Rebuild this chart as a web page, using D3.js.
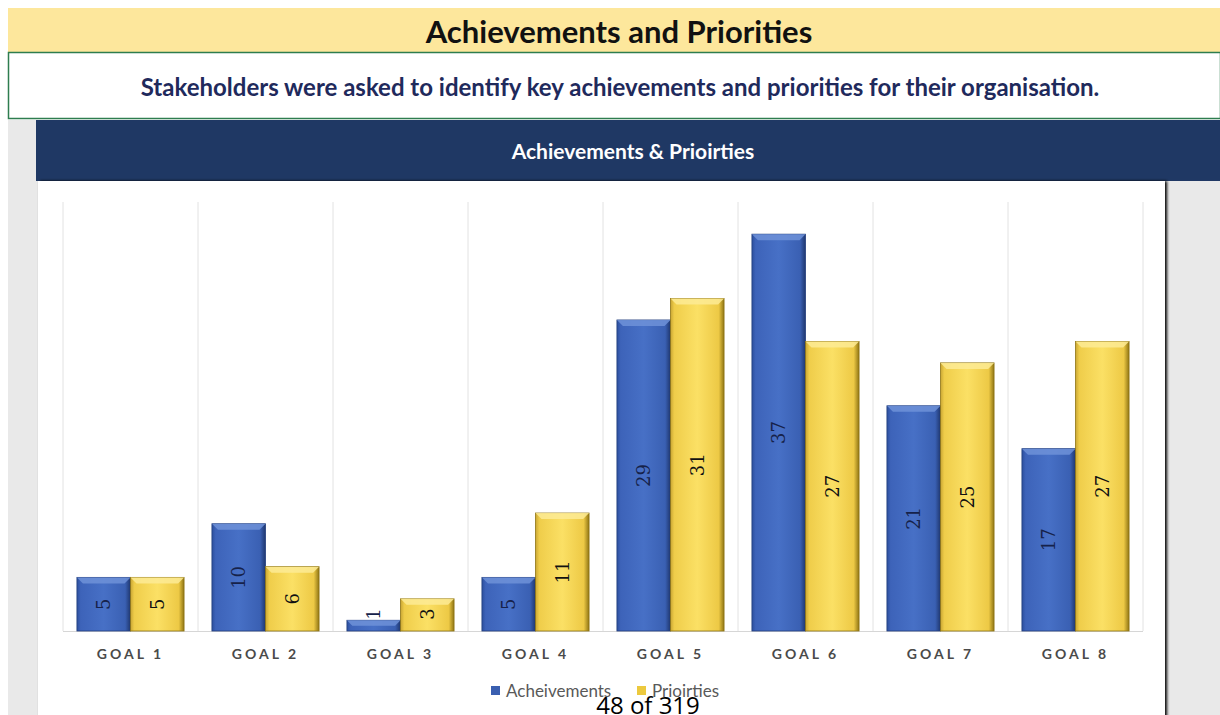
<!DOCTYPE html>
<html>
<head>
<meta charset="utf-8">
<script src="https://cdn.jsdelivr.net/npm/d3@7"></script>
<style>
  html, body { margin: 0; padding: 0; background: #ffffff; }
  svg { display: block; }
</style>
</head>
<body>
<svg id="chart" width="1220" height="715"></svg>
<script>
const categories = ["GOAL 1", "GOAL 2", "GOAL 3", "GOAL 4", "GOAL 5", "GOAL 6", "GOAL 7", "GOAL 8"];
const achievements = [5, 10, 1, 5, 29, 37, 21, 17];
const priorities = [5, 6, 3, 11, 31, 27, 25, 27];
const seriesNames = ["Acheivements", "Prioirties"];
const yTicks = [0, 10, 20, 30, 40];

const svg = d3.select("#chart");
const font = "Lato, 'Open Sans', sans-serif";
const serif = "'DejaVu Serif', 'Liberation Serif', serif";

// gradients for the bevelled bars
const defs = svg.append("defs");
function hGrad(id, stops) {
  const g = defs.append("linearGradient").attr("id", id).attr("x1", "0").attr("x2", "1").attr("y1", "0").attr("y2", "0");
  stops.forEach(s => g.append("stop").attr("offset", s[0]).attr("stop-color", s[1]));
}
hGrad("gBlue", [[0, "#2c4f9e"], [0.07, "#3d63b9"], [0.5, "#4770c6"], [0.9, "#3a60b3"], [1, "#1f376f"]]);
hGrad("gYellow", [[0, "#c9a633"], [0.07, "#efcd4a"], [0.5, "#fbe065"], [0.9, "#edc945"], [1, "#8f7514"]]);
const shadow = defs.append("filter").attr("id", "shadow").attr("x", "-5%").attr("y", "-5%").attr("width", "110%").attr("height", "110%");
shadow.append("feGaussianBlur").attr("in", "SourceAlpha").attr("stdDeviation", 1.5);
shadow.append("feOffset").attr("dx", 2).attr("dy", 0).attr("result", "b");
const fm = shadow.append("feMerge");
fm.append("feMergeNode").attr("in", "b");
fm.append("feMergeNode").attr("in", "SourceGraphic");

// page banner
svg.append("rect").attr("x", 8).attr("y", 8).attr("width", 1212).attr("height", 44).attr("fill", "#fde79c");
svg.append("text").attr("x", 619).attr("y", 43).attr("text-anchor", "middle")
  .attr("font-family", font).attr("font-weight", 700).attr("font-size", 31).attr("fill", "#111")
  .text("Achievements and Priorities");
svg.append("rect").attr("x", 8.5).attr("y", 52.5).attr("width", 1212).attr("height", 66)
  .attr("fill", "#fff").attr("stroke", "#2e7d4f").attr("stroke-width", 1.5);
svg.append("text").attr("x", 620).attr("y", 96).attr("text-anchor", "middle")
  .attr("font-family", font).attr("font-weight", 700).attr("font-size", 24).attr("fill", "#1f2a5c")
  .text("Stakeholders were asked to identify key achievements and priorities for their organisation.");

// chart frame
svg.append("rect").attr("x", 8).attr("y", 120).attr("width", 1212).attr("height", 595).attr("fill", "#e9e9e9");
svg.append("rect").attr("x", 36).attr("y", 120).attr("width", 1184).attr("height", 61).attr("fill", "#1f3864");
svg.append("rect").attr("x", 38).attr("y", 181).attr("width", 1127).attr("height", 540).attr("fill", "#fff").attr("filter", "url(#shadow)");
svg.append("text").attr("x", 633).attr("y", 159).attr("text-anchor", "middle")
  .attr("font-family", font).attr("font-weight", 700).attr("font-size", 21).attr("fill", "#fff")
  .text("Achievements & Prioirties");

// scales
const plot = { left: 63, right: 1143, top: 202, bottom: 631 };
const x = d3.scaleBand().domain(categories).range([plot.left, plot.right]).paddingInner(0).paddingOuter(0);
const xs = d3.scaleBand().domain(seriesNames).range([0, x.bandwidth()]).paddingOuter(0.26).paddingInner(0);
const y = d3.scaleLinear().domain([0, d3.max(yTicks)]).range([plot.bottom, plot.top]);

// category separators
const g = svg.append("g");
const seps = categories.map(c => x(c)).concat([plot.right]);
g.selectAll("line.sep").data(seps).join("line")
  .attr("x1", d => d).attr("x2", d => d).attr("y1", plot.top).attr("y2", plot.bottom)
  .attr("stroke", "#e2e2e2").attr("stroke-width", 1);
g.append("line").attr("x1", plot.left).attr("x2", plot.right).attr("y1", plot.bottom + 0.5).attr("y2", plot.bottom + 0.5)
  .attr("stroke", "#d6d6d6");

// bars
const rows = [];
categories.forEach((c, i) => {
  rows.push({ cat: c, s: seriesNames[0], v: achievements[i], fill: "url(#gBlue)", top: "#6f92d8", edge: "#223d7d", label: "#16224a" });
  rows.push({ cat: c, s: seriesNames[1], v: priorities[i], fill: "url(#gYellow)", top: "#fdeb95", edge: "#8f7514", label: "#111" });
});
const bw = xs.bandwidth();
const bars = g.selectAll("g.bar").data(rows).join("g").attr("class", "bar");
bars.append("rect")
  .attr("x", d => x(d.cat) + xs(d.s)).attr("y", d => y(d.v))
  .attr("width", bw).attr("height", d => y(0) - y(d.v))
  .attr("fill", d => d.fill).attr("stroke", d => d.edge).attr("stroke-width", 0.8);
// top bevel
bars.append("path")
  .attr("d", d => {
    const x0 = x(d.cat) + xs(d.s), y0 = y(d.v), b = Math.min(6, (y(0) - y(d.v)) / 2);
    return `M${x0},${y0}L${x0 + bw},${y0}L${x0 + bw - b},${y0 + b}L${x0 + b},${y0 + b}Z`;
  })
  .attr("fill", d => d.top).attr("opacity", 0.85);

// value labels, rotated inside the bars
bars.append("text")
  .attr("transform", d => {
    const cx = x(d.cat) + xs(d.s) + bw / 2;
    const cy = Math.min((y(d.v) + y(0)) / 2, y(0) - 17);
    return `translate(${cx},${cy}) rotate(-90)`;
  })
  .attr("text-anchor", "middle").attr("dominant-baseline", "central")
  .attr("font-family", serif).attr("font-size", 18).attr("fill", d => d.label)
  .text(d => d.v);

// category axis
const xAxis = svg.append("g").attr("transform", `translate(0,${plot.bottom})`)
  .call(d3.axisBottom(x).tickSize(0).tickPadding(18));
xAxis.select(".domain").remove();
xAxis.selectAll("text").attr("font-family", font).attr("font-size", 14).attr("font-weight", 700)
  .attr("letter-spacing", "3px").attr("fill", "#4a4a4a");

// legend
const legend = svg.append("g").attr("font-family", font).attr("font-size", 17).attr("fill", "#595959");
const legendItems = [{ name: seriesNames[0], x: 491, c: "#3a5fb0" }, { name: seriesNames[1], x: 637, c: "#ecc93e" }];
legendItems.forEach(it => {
  legend.append("rect").attr("x", it.x).attr("y", 686).attr("width", 9).attr("height", 9).attr("fill", it.c);
  legend.append("text").attr("x", it.x + 15).attr("y", 697).text(it.name);
});

// page number
svg.append("text").attr("x", 648).attr("y", 714).attr("text-anchor", "middle")
  .attr("font-family", "'Open Sans', sans-serif").attr("font-size", 24).attr("fill", "#000")
  .text("48 of 319");
</script>
</body>
</html>
